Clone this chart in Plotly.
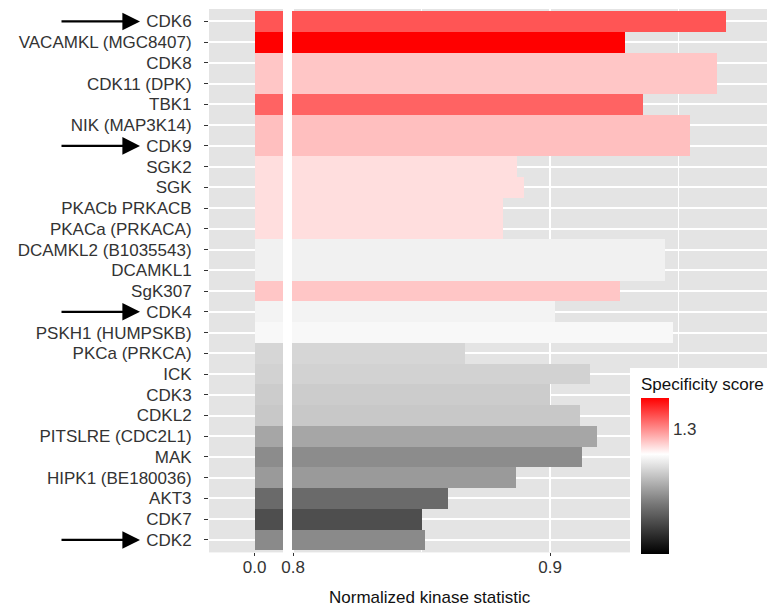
import plotly.graph_objects as go

W, H = 767, 608

kinases = ["CDK6", "VACAMKL (MGC8407)", "CDK8", "CDK11 (DPK)", "TBK1", "NIK (MAP3K14)",
           "CDK9", "SGK2", "SGK", "PKACb PRKACB", "PKACa (PRKACA)", "DCAMKL2 (B1035543)",
           "DCAMKL1", "SgK307", "CDK4", "PSKH1 (HUMPSKB)", "PKCa (PRKCA)", "ICK", "CDK3",
           "CDKL2", "PITSLRE (CDC2L1)", "MAK", "HIPK1 (BE180036)", "AKT3", "CDK7", "CDK2"]
stat_values = [0.9685, 0.9292, 0.9650, 0.9650, 0.9362, 0.9545, 0.9545, 0.8872, 0.8899,
               0.8817, 0.8817, 0.9447, 0.9447, 0.9272, 0.9019, 0.9479, 0.8669, 0.9156,
               0.9000, 0.9117, 0.9183, 0.9125, 0.8868, 0.8603, 0.8502, 0.8514]
spec_scores = [1.340, 1.400, 1.260, 1.260, 1.330, 1.265, 1.265, 1.243, 1.243, 1.243,
               1.243, 1.203, 1.203, 1.260, 1.206, 1.212, 1.172, 1.167, 1.160, 1.155,
               1.115, 1.085, 1.101, 1.0425, 1.005, 1.082]
arrow_rows = ["CDK6", "CDK9", "CDK4", "CDK2"]
main_ticks = [0.8, 0.9]
minor_ticks = [0.85, 0.95]
cbar_ticks = [1.3]


def pxx(x):
    return x / W


def pyy(y):
    return 1 - y / H


cscale = [[0.0, "#000000"], [0.32, "#777777"], [0.64, "#FFFFFF"], [1.0, "#FF0000"]]
FONT = "Liberation Sans, Arial, sans-serif"

marker_common = dict(color=spec_scores, colorscale=cscale, cmin=0.9, cmax=1.4,
                     line=dict(width=0))

fig = go.Figure()
fig.add_trace(go.Bar(y=kinases, x=stat_values, orientation="h", width=1,
                     marker=dict(**marker_common, showscale=False),
                     xaxis="x", yaxis="y", showlegend=False))
fig.add_trace(go.Bar(y=kinases, x=stat_values, orientation="h", width=1,
                     marker=dict(**marker_common, showscale=True,
                                 colorbar=dict(
                                     title=dict(text="Specificity score", side="top",
                                                font=dict(size=17, color="#111", family=FONT)),
                                     tickvals=cbar_ticks, ticktext=[str(v) for v in cbar_ticks],
                                     ticks="", tickfont=dict(size=17, color="#333", family=FONT),
                                     thickness=28, thicknessmode="pixels",
                                     lenmode="pixels", len=192,
                                     x=pxx(630), xanchor="left", xpad=11,
                                     y=pyy(368), yanchor="top", ypad=6,
                                     bgcolor="white", outlinewidth=0,
                                 )),
                     xaxis="x2", yaxis="y", showlegend=False))

n = len(kinases)
fig.update_layout(
    width=W, height=H,
    margin=dict(l=0, r=0, t=0, b=0, autoexpand=False),
    paper_bgcolor="white",
    plot_bgcolor="#E4E4E4",
    font=dict(family=FONT, size=17, color="#333"),
    bargap=0,
    xaxis=dict(domain=[pxx(209), pxx(283)], range=[-0.0616, 0.0384], anchor="y",
               tickvals=[0.0], ticktext=["0.0"], ticks="outside", ticklen=3,
               tickcolor="#333", showgrid=False, zeroline=False, showline=False,
               ticklabelstandoff=-4, automargin=False,
               tickfont=dict(size=17, color="#333")),
    xaxis2=dict(domain=[pxx(292), 1.0], range=[0.7996, 0.9844], anchor="y",
                tickvals=main_ticks, ticktext=["0.8", "0.9"], ticks="outside", ticklen=3,
                tickcolor="#333", showgrid=True, gridcolor="white", gridwidth=1.6,
                minor=dict(tickvals=minor_ticks, showgrid=True, gridcolor="white",
                           gridwidth=1.2, ticks=""),
                ticklabelstandoff=-4, automargin=False,
                zeroline=False, showline=False, tickfont=dict(size=17, color="#333")),
    yaxis=dict(domain=[pyy(552.4), pyy(9)], type="category",
               categoryorder="array", categoryarray=kinases,
               range=[n - 1 + 0.6, -0.6], anchor="x",
               ticks="outside", ticklen=4, tickcolor="#333", ticklabelstandoff=9,
               showgrid=True, gridcolor="white", gridwidth=1.8, zeroline=False,
               showline=False, automargin=False, tickfont=dict(size=17, color="#333")),
)

annotations = [dict(text="Normalized kinase statistic", xref="paper", yref="paper",
                    x=pxx(430), y=pyy(597), xanchor="center", yanchor="middle",
                    showarrow=False, font=dict(size=17, color="#111"))]
for r in arrow_rows:
    annotations.append(dict(text="", xref="paper", yref="y", x=pxx(140), y=r,
                            ax=-80, ay=0, axref="pixel", ayref="pixel",
                            showarrow=True, arrowhead=2, arrowsize=1.6,
                            arrowwidth=2.2, arrowcolor="black", standoff=0))
fig.update_layout(annotations=annotations)

fig.write_html("out.html")
